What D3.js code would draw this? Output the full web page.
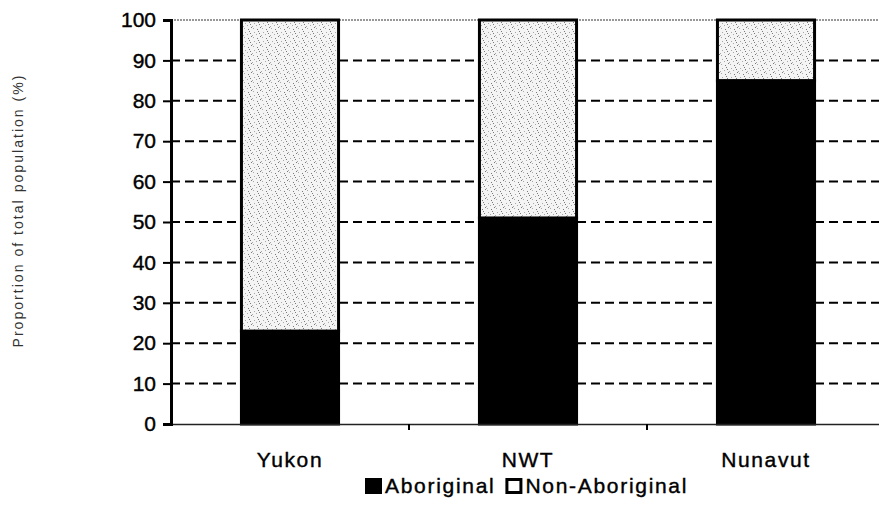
<!DOCTYPE html>
<html>
<head>
<meta charset="utf-8">
<script src="https://cdn.jsdelivr.net/npm/d3@7"></script>
<style>
  body { margin: 0; background: #fff; }
  svg { display: block; font-family: "Liberation Sans", Arial, sans-serif; }
</style>
</head>
<body>
<div id="chart"></div>
<script>
// data
const categories = ['Yukon', 'NWT', 'Nunavut'];
const aboriginal = [23, 51, 85];
const nonAboriginal = [77, 49, 15];
const yTicks = [0, 10, 20, 30, 40, 50, 60, 70, 80, 90, 100];
const seriesNames = ['Aboriginal', 'Non-Aboriginal'];

const width = 879, height = 511;
const plotLeft = 171, plotTop = 20, plotBottom = 424;
const step = 238;

const svg = d3.select('#chart').append('svg')
  .attr('width', width)
  .attr('height', height);

// stippled grey fill for the non-aboriginal part
const defs = svg.append('defs');
const pat = defs.append('pattern')
  .attr('id', 'stipple')
  .attr('patternUnits', 'userSpaceOnUse')
  .attr('width', 9).attr('height', 9);
pat.append('rect').attr('width', 9).attr('height', 9).attr('fill', '#f4f4f4');
[[1, 1], [5, 2], [2, 5], [7, 6], [0, 8], [8, 0], [4, 7], [6, 4]].forEach(([px, py], i) => {
  pat.append('rect').attr('x', px).attr('y', py).attr('width', 1).attr('height', 1)
    .attr('fill', i % 2 ? '#7a7a7a' : '#a8a8a8');
});

const x = d3.scaleBand()
  .domain(categories)
  .range([plotLeft, plotLeft + step * categories.length])
  .paddingInner(0.592)
  .paddingOuter(0.296);

const y = d3.scaleLinear().domain([0, 100]).range([plotBottom, plotTop]);

// gridlines
svg.append('g')
  .selectAll('line')
  .data(yTicks.filter(d => d > 0 && d < 100))
  .join('line')
  .attr('x1', plotLeft).attr('x2', width)
  .attr('y1', d => y(d)).attr('y2', d => y(d))
  .attr('stroke', '#000')
  .attr('stroke-width', 2)
  .attr('stroke-dasharray', '9,5');

// top border of plot area
svg.append('line')
  .attr('x1', plotLeft).attr('x2', width)
  .attr('y1', y(100)).attr('y2', y(100))
  .attr('stroke', '#777')
  .attr('stroke-width', 1.3)
  .attr('stroke-dasharray', '2,1');

// stacked bars
const rows = categories.map((c, i) => ({ cat: c, Aboriginal: aboriginal[i], 'Non-Aboriginal': nonAboriginal[i] }));
const stack = d3.stack().keys(seriesNames)(rows);
const fills = { 'Aboriginal': '#000', 'Non-Aboriginal': 'url(#stipple)' };

svg.append('g')
  .selectAll('g')
  .data(stack)
  .join('g')
  .attr('fill', d => fills[d.key])
  .selectAll('rect')
  .data(d => d)
  .join('rect')
  .attr('x', d => x(d.data.cat))
  .attr('y', d => y(d[1]))
  .attr('width', x.bandwidth())
  .attr('height', d => y(d[0]) - y(d[1]))
  .attr('stroke', '#000')
  .attr('stroke-width', 3);

// x axis
const xAxis = d3.axisBottom(x).tickSize(0).tickPadding(0).tickFormat('');
svg.append('g')
  .attr('transform', `translate(0,${plotBottom})`)
  .call(xAxis)
  .call(g => g.select('.domain').attr('stroke', '#222').attr('stroke-width', 1.6));

// x tick marks at category boundaries
svg.append('g')
  .selectAll('line')
  .data(categories)
  .join('line')
  .attr('x1', d => x(d) + x.bandwidth() + x.step() * x.paddingInner() / 2)
  .attr('x2', d => x(d) + x.bandwidth() + x.step() * x.paddingInner() / 2)
  .attr('y1', plotBottom).attr('y2', plotBottom + 6)
  .attr('stroke', '#000').attr('stroke-width', 2);

// category labels
svg.append('g')
  .selectAll('text')
  .data(categories)
  .join('text')
  .attr('x', d => x(d) + x.bandwidth() / 2)
  .attr('y', 467)
  .attr('text-anchor', 'middle')
  .attr('font-size', 21)
  .attr('letter-spacing', 1.6)
  .attr('stroke', '#000')
  .attr('stroke-width', 0.4)
  .text(d => d);

// y axis
const yAxis = d3.axisLeft(y).tickValues(yTicks).tickSize(8).tickPadding(7);
svg.append('g')
  .attr('transform', `translate(${plotLeft},0)`)
  .call(yAxis)
  .call(g => g.select('.domain').attr('stroke', '#000').attr('stroke-width', 3))
  .call(g => g.selectAll('.tick line').attr('stroke', '#000').attr('stroke-width', 2))
  .call(g => g.selectAll('.tick text')
    .attr('font-size', 21)
    .attr('font-family', '"Liberation Sans", Arial, sans-serif')
    .attr('fill', '#000')
    .attr('stroke', '#000')
    .attr('stroke-width', 0.4));

// y axis title
svg.append('text')
  .attr('transform', `translate(23,${(75 + 348) / 2}) rotate(-90)`)
  .attr('text-anchor', 'middle')
  .attr('font-size', 14)
  .attr('fill', '#333')
  .attr('textLength', 272)
  .attr('lengthAdjust', 'spacing')
  .text('Proportion of total population (%)');

// legend
const legend = svg.append('g').attr('transform', 'translate(365,478)');
let lx = 0;
seriesNames.forEach((name, i) => {
  const item = legend.append('g').attr('transform', `translate(${lx},0)`);
  item.append('rect')
    .attr('x', 1.5).attr('y', 1.5)
    .attr('width', 14).attr('height', 13)
    .attr('fill', i === 0 ? '#000' : '#fff')
    .attr('stroke', '#000').attr('stroke-width', 3);
  const t = item.append('text')
    .attr('x', 20).attr('y', 15)
    .attr('font-size', 21)
    .attr('letter-spacing', 1.7)
    .attr('stroke', '#000')
    .attr('stroke-width', 0.4)
    .text(name);
  lx += 20 + t.node().getComputedTextLength() + 10;
});
</script>
</body>
</html>
